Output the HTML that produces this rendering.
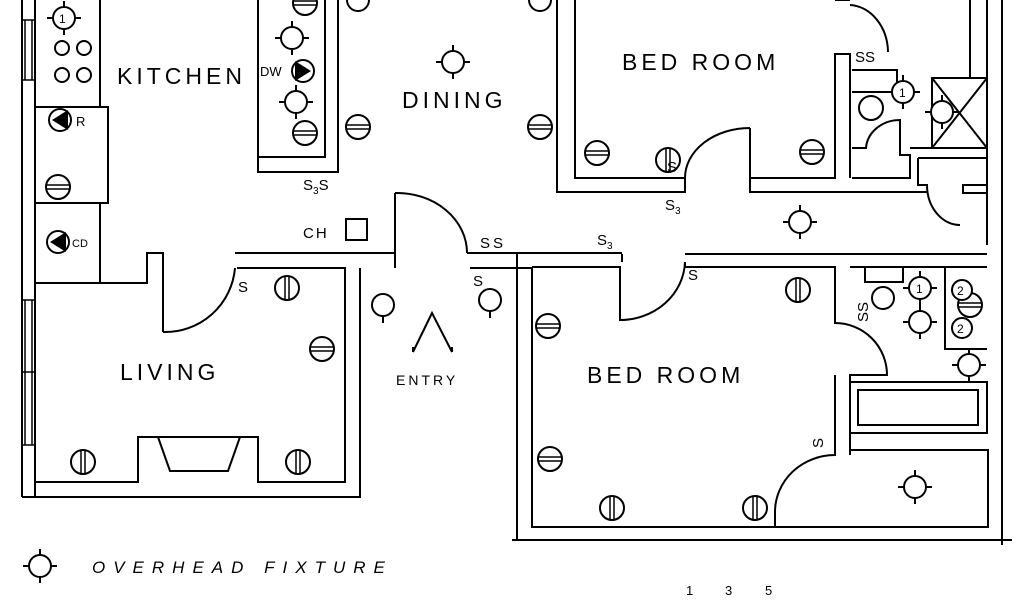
<!DOCTYPE html>
<html><head><meta charset="utf-8"><style>
html,body{margin:0;padding:0;background:#fff;}
svg{display:block;}
text{font-family:"Liberation Sans",sans-serif;fill:#000;}
</style></head><body>
<svg width="1024" height="600" viewBox="0 0 1024 600" xmlns="http://www.w3.org/2000/svg">
<defs>
<g id="ov"><circle r="11" fill="#fff" stroke="#000" stroke-width="2"/><path d="M0-11V-17M0 11V17M-11 0H-17M11 0H17" stroke="#000" stroke-width="2"/></g>
<g id="oh"><circle r="12" fill="#fff" stroke="#000" stroke-width="2"/><path d="M-12-2H12M-12 2H12" stroke="#000" stroke-width="1.5"/></g>
<g id="vo"><circle r="12" fill="#fff" stroke="#000" stroke-width="2"/><path d="M-2-12V12M2-12V12" stroke="#000" stroke-width="1.5"/></g>
</defs>
<g fill="none" stroke="#000" stroke-width="2">
<path d="M22 0V497M35 0V497"/>
<path d="M25 20V80M32 20V80M25 300V445M32 300V445M22 20H35M22 80H35M22 300H35M22 372H35M22 445H35" stroke-width="1.5"/>
<path d="M100 0V107M35 107H108V203H35M100 203V283M35 283H147V253H163V300"/>
<path d="M258 0V172H338V0M258 157H325V0"/>
<path d="M163 253V332M163 332A70 70 0 0 0 235 268M235 253H395M237 268H345V482H258V437H138V482H35M22 497H360V268"/>
<path d="M158 437L170 471H228L240 437"/>
<path d="M395 193V268M395 193A70 60 0 0 1 467 253M467 253H622M470 268H532"/>
<path d="M557 0V192H685V178H575V0M685 178A65 50 0 0 1 750 128M750 128V193M750 178H835V54H850V178M750 192H927"/>
<path d="M850 5A40 48 0 0 1 888 52M835 0H850"/>
<path d="M852 70H897V92H852M932 78H987V148H932ZM932 78L987 148M987 78L932 148M970 0V78M987 0V245M1002 0V545"/>
<path d="M852 148H866A34 30 0 0 1 900 120V155H910V178H852M932 148H910"/>
<path d="M918 158H987M918 158V185H927A33 40 0 0 0 960 225M963 185H987V193H963Z"/>
<path d="M685 254H987M622 254V262M532 267H620V320A65 60 0 0 0 685 262V267H835V323A52 52 0 0 1 887 375H850V455M850 267H987M517 254V540M532 267V527H988V450H850M835 375V455A60 57 0 0 0 775 512V527M512 540H1012"/>
<path d="M850 382H987V433H850ZM858 390H978V425H858ZM945 267V349H987M865 267V282H903V267"/>
</g>
<use href="#ov" x="64" y="18"/><use href="#ov" x="292" y="38"/><use href="#ov" x="296" y="102"/><use href="#ov" x="453" y="62"/>
<use href="#ov" x="800" y="222"/><use href="#ov" x="915" y="487"/><use href="#ov" x="920" y="322"/><use href="#ov" x="920" y="288"/>
<use href="#ov" x="969" y="365"/><use href="#ov" x="903" y="92"/><use href="#ov" x="942" y="112"/><use href="#ov" x="40" y="566"/>
<use href="#oh" x="58" y="187"/><use href="#oh" x="305" y="133"/><use href="#oh" x="358" y="127"/><use href="#oh" x="540" y="127"/>
<use href="#oh" x="597" y="153"/><use href="#oh" x="812" y="152"/><use href="#oh" x="322" y="349"/><use href="#oh" x="548" y="326"/>
<use href="#oh" x="550" y="459"/><use href="#oh" x="970" y="305"/><use href="#oh" x="305" y="3"/>
<use href="#vo" x="668" y="160"/><use href="#vo" x="287" y="288"/><use href="#vo" x="798" y="290"/><use href="#vo" x="83" y="462"/>
<use href="#vo" x="298" y="462"/><use href="#vo" x="612" y="508"/><use href="#vo" x="755" y="508"/>
<g fill="#fff" stroke="#000" stroke-width="2">
<circle cx="62" cy="48" r="7"/><circle cx="84" cy="48" r="7"/><circle cx="62" cy="75" r="7"/><circle cx="84" cy="75" r="7"/>
<circle cx="383" cy="305" r="11"/><circle cx="490" cy="300" r="11"/><circle cx="871" cy="108" r="12"/><circle cx="883" cy="298" r="11"/>
<circle cx="962" cy="290" r="10"/><circle cx="962" cy="328" r="10"/><circle cx="358" cy="0" r="11"/><circle cx="540" cy="0" r="11"/>
<circle cx="60" cy="120" r="11"/><circle cx="58" cy="242" r="11"/><circle cx="303" cy="71" r="11"/>
</g>
<g fill="#000"><path d="M52 120L68 110V130Z"/><path d="M50 242L66 232V252Z"/><path d="M311 71L295 61V81Z"/></g>
<path d="M383 316V323M490 311V318M413 352L432 313L452 352M413 352V347M452 352V347" stroke="#000" stroke-width="2" fill="none"/>
<rect x="346" y="219" width="21" height="21" fill="none" stroke="#000" stroke-width="2"/>
<g font-size="23" letter-spacing="4">
<text x="117" y="84">KITCHEN</text><text x="402" y="108">DINING</text><text x="622" y="70">BED ROOM</text>
<text x="587" y="383">BED ROOM</text><text x="120" y="380">LIVING</text>
</g>
<g font-size="15">
<text x="396" y="385" font-size="14" letter-spacing="3">ENTRY</text><text x="303" y="238" letter-spacing="2">CH</text>
<text x="480" y="248" letter-spacing="3">SS</text><text x="303" y="190">S<tspan font-size="10" dy="4">3</tspan><tspan dy="-4">S</tspan></text>
<text x="665" y="210">S<tspan font-size="10" dy="4">3</tspan></text><text x="597" y="245">S<tspan font-size="10" dy="4">3</tspan></text>
<text x="238" y="292">S</text><text x="473" y="286">S</text><text x="688" y="280">S</text><text x="855" y="62">SS</text>
<text x="667" y="172">S</text>
<text transform="translate(868 322) rotate(-90)">SS</text><text transform="translate(823 448) rotate(-90)">S</text>
<text x="59" y="23" font-size="12">1</text><text x="899" y="97" font-size="12">1</text><text x="916" y="293" font-size="12">1</text>
<text x="957" y="295" font-size="12">2</text><text x="957" y="333" font-size="12">2</text>
<text x="76" y="126" font-size="13">R</text><text x="72" y="247" font-size="11">CD</text><text x="260" y="76" font-size="13">DW</text>
<text x="92" y="573" font-size="17" font-style="italic" letter-spacing="8">OVERHEAD FIXTURE</text>
<text x="686" y="595" font-size="13">1</text><text x="725" y="595" font-size="13">3</text><text x="765" y="595" font-size="13">5</text>
</g>
</svg>
</body></html>
